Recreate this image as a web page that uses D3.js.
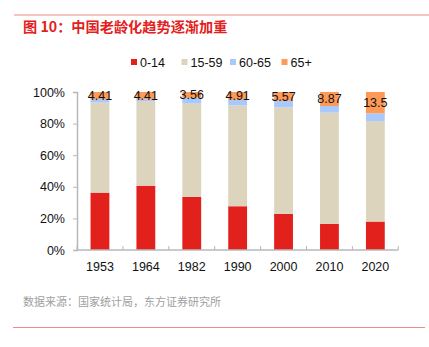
<!DOCTYPE html>
<html>
<head>
<meta charset="utf-8">
<script src="https://cdn.jsdelivr.net/npm/d3@7"></script>
<style>
  body { margin: 0; background: #fff; }
  svg { display: block; font-family: "Liberation Sans", Arial, sans-serif; }
</style>
</head>
<body>
<div id="chart"></div>
<script>
const width = 429, height = 347;

// census years and age-group shares (%)
const years = ["1953", "1964", "1982", "1990", "2000", "2010", "2020"];
const age0to14 = [36.3, 40.7, 33.6, 27.7, 22.9, 16.6, 18.0];
const age60to65 = [2.3, 1.3, 3.8, 3.6, 4.2, 4.2, 4.9];
const age65plus = [4.41, 4.41, 3.56, 4.91, 5.57, 8.87, 13.5];
const age15to59 = years.map((y, i) => +(100 - age0to14[i] - age60to65[i] - age65plus[i]).toFixed(2));
const groupNames = ["0-14", "15-59", "60-65", "65+"];
const groupColors = ["#e3211c", "#ddd4bd", "#a9c9fc", "#fd9a57"];
const yTicks = [0, 20, 40, 60, 80, 100];

const rows = years.map((y, i) => ({
    year: y,
    "0-14": age0to14[i],
    "15-59": age15to59[i],
    "60-65": age60to65[i],
    "65+": age65plus[i]
}));

const svg = d3.select("#chart").append("svg")
    .attr("width", width)
    .attr("height", height);

// header rule + title
svg.append("line")
    .attr("x1", 14).attr("x2", 429).attr("y1", 15).attr("y2", 15)
    .attr("stroke", "#f08a8a").attr("stroke-width", 1.2);

svg.append("text")
    .attr("x", 23).attr("y", 32)
    .attr("fill", "#e3211c")
    .style("font-family", "'Noto Sans CJK SC', sans-serif")
    .style("font-weight", "bold")
    .style("font-size", "14.2px")
    .text("图 10：中国老龄化趋势逐渐加重");

const x = d3.scaleBand()
    .domain(years)
    .range([77, 398.3])
    .paddingInner(0.59)
    .paddingOuter(0.295);

const y = d3.scaleLinear()
    .domain([0, 100])
    .range([250, 92]);

const stack = d3.stack().keys(groupNames);
const series = stack(rows);

// bars
const layer = svg.selectAll(".layer")
    .data(series)
    .enter()
    .append("g")
    .attr("class", "layer")
    .attr("fill", (d, i) => groupColors[i]);

layer.selectAll("rect")
    .data(d => d)
    .enter()
    .append("rect")
    .attr("x", d => x(d.data.year))
    .attr("width", x.bandwidth())
    .attr("y", d => y(d[1]))
    .attr("height", d => y(d[0]) - y(d[1]));

// axes
const axisColor = "#b8b8b8";

const yAxis = svg.append("g")
    .attr("transform", "translate(77,0)")
    .call(d3.axisLeft(y).tickValues(yTicks).tickFormat(d => d + "%").tickSize(4).tickPadding(8));

const xAxis = svg.append("g")
    .attr("transform", "translate(0,250)")
    .call(d3.axisBottom(x).tickSize(0).tickPadding(12));

// x ticks sit between categories, pointing up
const bounds = years.map(yr => x(yr) - x.step() * x.paddingInner() / 2).concat([398.3]);
svg.append("g")
    .selectAll("line")
    .data(bounds)
    .enter()
    .append("line")
    .attr("x1", d => d).attr("x2", d => d)
    .attr("y1", 246).attr("y2", 250)
    .attr("stroke", axisColor);

[yAxis, xAxis].forEach(g => {
    g.select(".domain").attr("stroke", axisColor).attr("stroke-width", 1.5);
    g.selectAll(".tick line").attr("stroke", axisColor);
    g.selectAll(".tick text")
        .attr("fill", "#111")
        .style("font-family", "'Liberation Sans', Arial, sans-serif")
        .style("font-size", "12.5px");
});
xAxis.select(".domain").attr("d", "M77,0H398.3");

// 65+ value labels centred in the top segment
const topLayer = series[3];
svg.append("g")
    .selectAll("text")
    .data(topLayer)
    .enter()
    .append("text")
    .attr("x", d => x(d.data.year) + x.bandwidth() / 2)
    .attr("y", d => (y(d[0]) + y(d[1])) / 2)
    .attr("dy", "0.35em")
    .attr("text-anchor", "middle")
    .attr("fill", "#111")
    .style("font-size", "12.5px")
    .text(d => d.data["65+"]);

// legend
const legendX = [131, 181.5, 230, 281.5];
const legend = svg.append("g")
    .selectAll("g")
    .data(groupNames)
    .enter()
    .append("g")
    .attr("transform", (d, i) => "translate(" + legendX[i] + ",59)");

legend.append("rect")
    .attr("width", 6).attr("height", 6)
    .attr("fill", (d, i) => groupColors[i]);

legend.append("text")
    .attr("x", 9).attr("y", 7.5)
    .attr("fill", "#111")
    .style("font-size", "12.5px")
    .text(d => d);

// source note + footer rule
svg.append("text")
    .attr("x", 23).attr("y", 306)
    .attr("fill", "#a0a0a0")
    .style("font-family", "'Noto Sans CJK SC', sans-serif")
    .style("font-size", "11px")
    .text("数据来源：国家统计局，东方证券研究所");

svg.append("line")
    .attr("x1", 13).attr("x2", 425).attr("y1", 327.5).attr("y2", 327.5)
    .attr("stroke", "#f08a8a").attr("stroke-width", 1.2);
</script>
</body>
</html>
